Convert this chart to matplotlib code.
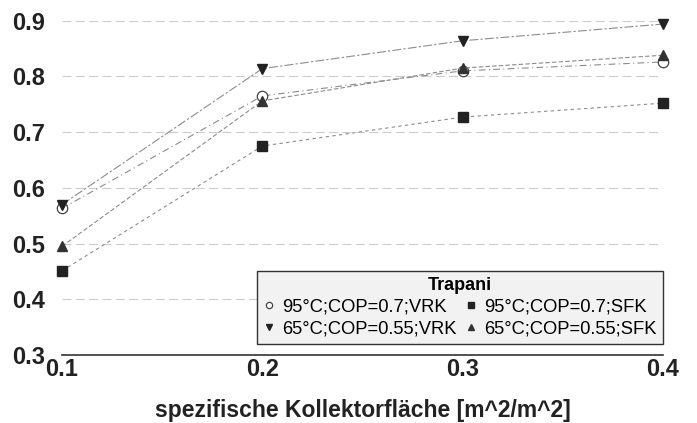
import matplotlib
matplotlib.use('Agg')
import matplotlib.pyplot as plt

plt.rcParams['font.family'] = ['Liberation Sans', 'DejaVu Sans']

flaeche = [0.1, 0.2, 0.3, 0.4]

vrk_95 = [0.563, 0.765, 0.810, 0.826]
sfk_95 = [0.451, 0.675, 0.727, 0.752]
vrk_65 = [0.570, 0.814, 0.864, 0.894]
sfk_65 = [0.495, 0.756, 0.815, 0.838]

labels = ["95°C;COP=0.7;VRK", "95°C;COP=0.7;SFK",
          "65°C;COP=0.55;VRK", "65°C;COP=0.55;SFK"]

fig = plt.figure(figsize=(6.97, 4.23), dpi=100)
ax = fig.add_axes([0.089, 0.161, 0.862, 0.790])

grau = '#8c8c8c'
l1, = ax.plot(flaeche, vrk_95, color=grau, lw=0.8, ls=(0, (6, 3, 1, 3)),
              marker='o', ms=7.5, mfc='white', mec='#444444', mew=0.9,
              label=labels[0], clip_on=False, zorder=3)
l2, = ax.plot(flaeche, sfk_95, color=grau, lw=0.8, ls=(0, (3, 3)),
              marker='s', ms=6.5, mfc='#222222', mec='#222222',
              label=labels[1], clip_on=False, zorder=3)
l3, = ax.plot(flaeche, vrk_65, color=grau, lw=0.8, ls=(0, (8, 2, 2, 2)),
              marker='v', ms=7.5, mfc='#222222', mec='#222222',
              label=labels[2], clip_on=False, zorder=3)
l4, = ax.plot(flaeche, sfk_65, color=grau, lw=0.8, ls=(0, (4, 2)),
              marker='^', ms=6.5, mfc='#333333', mec='#333333',
              label=labels[3], clip_on=False, zorder=3)

ax.set_xlim(0.1, 0.4)
ax.set_ylim(0.3, 0.9)
ax.set_xticks(flaeche)
ax.set_xticklabels(['0.1', '0.2', '0.3', '0.4'])
ax.set_yticks([0.3, 0.4, 0.5, 0.6, 0.7, 0.8, 0.9])
ax.set_yticklabels(['0.3', '0.4', '0.5', '0.6', '0.7', '0.8', '0.9'])

for g in [0.4, 0.5, 0.6, 0.7, 0.8, 0.9]:
    ax.axhline(g, color='#cccccc', lw=0.8, ls=(0, (8, 4)), zorder=1)

for s in ['top', 'right', 'left']:
    ax.spines[s].set_visible(False)
ax.spines['bottom'].set_color('#333333')
ax.spines['bottom'].set_linewidth(1.2)

ax.tick_params(axis='both', length=0, labelsize=17, colors='#222222')
ax.tick_params(axis='y', pad=12)
ax.tick_params(axis='x', pad=2)
for t in ax.get_xticklabels() + ax.get_yticklabels():
    t.set_fontweight('bold')

ax.set_xlabel("spezifische Kollektorfläche [m^2/m^2]", fontsize=16.5,
              fontweight='bold', color='#222222', labelpad=13)

# Reihenfolge: Zeile 1 = 95°C, Zeile 2 = 65°C
leg = ax.legend([l1, l3, l2, l4], [labels[0], labels[2], labels[1], labels[3]],
                loc='lower right', bbox_to_anchor=(1.0, 0.033), ncol=2,
                borderaxespad=0, title='Trapani', fontsize=13.2, markerscale=0.6,
                handlelength=0.6, handletextpad=0.4, columnspacing=0.5,
                borderpad=0.35, labelspacing=0.26, fancybox=False,
                framealpha=1, edgecolor='#333333', facecolor='#f2f2f2')
leg.get_title().set_fontweight('bold')
leg.get_title().set_fontsize(13)
leg.get_frame().set_linewidth(1.0)
for h in leg.get_lines():
    h.set_linestyle('none')

fig.savefig('out.png', dpi=100)
